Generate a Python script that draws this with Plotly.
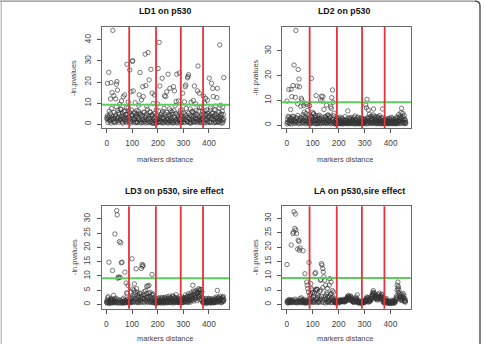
import plotly.graph_objects as go

W, H = 485, 344

# marker positions (shared by all four analyses)
markers = [
    1, 3, 5, 8, 10, 12, 15, 17, 19, 21,
    24, 26, 28, 31, 33, 35, 38, 40, 42, 44,
    47, 49, 51, 54, 56, 58, 61, 63, 65, 67,
    70, 72, 74, 77, 79, 81, 84, 86, 88, 90,
    93, 95, 97, 100, 102, 104, 107, 109, 111, 113,
    116, 118, 120, 123, 125, 127, 130, 132, 134, 136,
    139, 141, 143, 146, 148, 150, 153, 155, 157, 159,
    162, 164, 166, 169, 171, 173, 176, 178, 180, 182,
    185, 187, 189, 192, 194, 196, 199, 201, 203, 205,
    208, 210, 212, 215, 217, 219, 222, 224, 226, 228,
    231, 233, 235, 238, 240, 242, 245, 247, 249, 251,
    254, 256, 258, 261, 263, 265, 268, 270, 272, 274,
    277, 279, 281, 284, 286, 288, 291, 293, 295, 297,
    300, 302, 304, 307, 309, 311, 314, 316, 318, 320,
    323, 325, 327, 330, 332, 334, 337, 339, 341, 343,
    346, 348, 350, 353, 355, 357, 360, 362, 364, 366,
    369, 371, 373, 376, 378, 380, 383, 385, 387, 389,
    392, 394, 396, 399, 401, 403, 406, 408, 410, 412,
    415, 417, 419, 422, 424, 426, 429, 431, 433, 435,
    438, 440, 442, 445, 447, 449, 452, 454, 456, 458,
]

ld1_a = [
    3.2, 19.4, 2.1, 24.6, 4.0, 1.5, 12.0, 19.7, 2.8, 15.0,
    44.5, 2.5, 13.5, 1.2, 3.8, 12.0, 19.0, 20.2, 16.2, 3.0,
    5.5, 1.8, 9.5, 2.6, 7.0, 11.0, 1.0, 3.5, 13.0, 6.2,
    13.9, 2.0, 4.5, 8.0, 28.4, 1.5, 10.5, 3.3, 6.0, 25.7,
    1.2, 15.4, 4.2, 29.8, 30.1, 15.8, 2.2, 5.0, 10.2, 0.8,
    3.5, 6.5, 1.0, 2.7, 9.0, 13.9, 24.5, 4.8, 0.6, 11.5,
    2.0, 17.8, 13.1, 5.5, 1.4, 33.2, 18.3, 3.9, 8.5, 0.9,
    34.0, 2.8, 21.0, 6.0, 1.1, 26.0, 4.4, 14.7, 0.5, 9.8,
    3.0, 13.9, 1.7, 0.4, 6.8, 2.3, 9.6, 26.4, 1.2, 38.8,
    18.1, 3.6, 1.0, 5.2, 21.8, 0.7, 2.9, 7.5, 13.5, 1.5,
    13.1, 2.4, 15.4, 0.9, 23.7, 4.6, 1.3, 17.0, 3.1, 6.4,
    1.8, 5.7, 0.6, 17.8, 3.4, 15.8, 8.8, 2.1, 10.8, 23.7,
    1.0, 4.0, 11.0, 24.3, 2.5, 6.6, 0.8, 3.7, 1.9, 14.7,
    5.4, 2.2, 10.6, 17.8, 18.6, 4.1, 1.3, 22.0, 22.6, 23.5,
    3.2, 0.7, 7.2, 10.4, 2.0, 5.9, 1.1, 11.2, 3.8, 18.1,
    2.6, 9.6, 4.7, 1.4, 15.8, 27.6, 6.3, 14.7, 0.9, 3.5,
    1.7, 8.0, 2.9, 0.6, 13.4, 5.0, 9.9, 2.3, 12.3, 4.2,
    6.8, 11.4, 1.5, 3.9, 21.8, 0.8, 7.7, 2.6, 19.4, 5.3,
    17.0, 13.1, 2.0, 4.5, 0.9, 8.6, 3.3, 12.6, 17.0, 6.1,
    1.2, 3.0, 37.6, 9.0, 0.5, 4.8, 2.2, 8.2, 1.6, 22.1,
]
ld1_b = [
    2.5, 4.1, 0.8, 3.3, 6.2, 1.9, 5.0, 0.6, 7.4, 2.2,
    3.6, 1.1, 5.6, 2.9, 0.7, 4.4, 8.3, 1.6, 3.0, 6.5,
    0.9, 4.8, 2.3, 7.0, 1.4, 3.7, 5.3, 0.5, 2.7, 4.0,
    6.0, 1.3, 3.1, 0.8, 4.6, 2.0, 7.8, 3.5, 1.0, 5.4,
    2.8, 0.6, 6.7, 1.7, 4.3, 3.0, 0.9, 5.7, 2.4, 3.9,
    1.2, 4.9, 0.7, 3.4, 6.1, 2.1, 5.0, 1.5, 3.8, 0.9,
    4.2, 2.5, 0.8, 5.8, 1.9, 3.2, 0.6, 4.7, 2.3, 7.1,
    1.6, 3.9, 0.7, 2.8, 5.5, 1.2, 3.6, 0.5, 4.4, 2.1,
    0.6, 3.1, 5.2, 1.8, 0.4, 4.0, 2.6, 0.9, 6.3, 3.3,
    2.2, 0.8, 4.5, 1.4, 3.2, 6.0, 0.6, 2.7, 4.9, 1.3,
    3.7, 1.0, 5.6, 2.2, 0.5, 3.9, 7.3, 1.7, 4.2, 0.8,
    2.9, 4.7, 1.5, 0.7, 6.4, 3.1, 1.2, 5.1, 2.4, 0.6,
    4.6, 1.8, 3.0, 0.6, 5.3, 2.0, 4.1, 0.9, 6.8, 2.7,
    1.1, 3.5, 0.7, 4.8, 2.2, 7.5, 1.6, 3.3, 0.8, 5.2,
    2.4, 4.3, 1.0, 0.5, 3.7, 6.1, 2.8, 1.4, 5.5, 0.9,
    3.9, 1.3, 6.6, 2.5, 0.7, 4.0, 1.8, 3.1, 7.9, 2.0,
    0.8, 4.4, 2.7, 5.8, 1.5, 3.2, 0.6, 6.3, 2.2, 4.7,
    1.9, 0.7, 5.0, 3.3, 1.2, 4.1, 6.6, 0.9, 2.8, 3.7,
    5.2, 2.4, 0.6, 3.8, 6.9, 1.3, 4.5, 0.8, 2.0, 3.4,
    0.9, 5.6, 2.3, 4.0, 1.5, 3.1, 6.2, 0.7, 4.6, 2.5,
]

ld2_a = [
    9.7, 1.2, 3.5, 14.4, 2.0, 0.8, 6.3, 14.5, 11.5, 2.6,
    16.0, 2.1, 24.3, 1.3, 11.2, 38.3, 3.0, 15.8, 8.6, 22.5,
    18.6, 15.5, 2.4, 7.6, 10.8, 10.1, 1.7, 3.3, 7.9, 5.2,
    8.8, 2.0, 4.6, 8.4, 1.4, 6.0, 3.8, 2.7, 7.9, 1.2,
    0.9, 18.9, 3.3, 5.1, 1.6, 4.5, 2.2, 0.7, 3.9, 11.9,
    1.8, 0.6, 2.9, 1.2, 4.0, 2.4, 10.1, 0.8, 11.7, 9.7,
    11.5, 2.0, 6.3, 1.0, 3.2, 2.5, 8.1, 0.7, 1.9, 4.1,
    1.5, 3.6, 0.9, 7.4, 6.8, 11.1, 14.2, 9.2, 2.3, 4.8,
    1.1, 0.4, 2.5, 0.8, 3.0, 0.5, 1.7, 0.9, 2.2, 0.6,
    1.3, 0.7, 2.8, 1.0, 0.5, 1.9, 0.8, 3.4, 1.2, 0.6,
    2.0, 0.9, 5.7, 1.5, 0.6, 2.6, 1.1, 3.1, 0.7, 1.8,
    0.8, 2.3, 1.4, 0.5, 3.7, 1.0, 2.1, 0.7, 1.6, 3.2,
    1.2, 0.6, 2.7, 0.9, 1.8, 0.5, 2.4, 1.3, 0.7, 1.5,
    1.0, 2.2, 8.1, 7.0, 10.4, 3.0, 6.1, 1.5, 4.4, 2.6,
    1.2, 3.5, 0.8, 2.4, 4.1, 6.5, 1.7, 3.0, 0.9, 2.2,
    1.6, 3.4, 0.7, 2.5, 1.2, 3.8, 0.6, 2.0, 1.4, 0.8,
    6.5, 1.0, 0.5, 2.3, 1.4, 0.7, 1.9, 0.9, 2.6, 1.1,
    0.6, 1.5, 2.8, 0.8, 1.2, 3.1, 0.5, 1.7, 2.2, 0.9,
    1.3, 0.6, 2.4, 1.0, 3.3, 0.7, 1.8, 4.2, 2.6, 1.5,
    3.6, 5.0, 6.8, 2.4, 4.7, 1.2, 3.9, 0.8, 2.0, 0.6,
]
ld2_b = [
    0.5, 2.3, 1.0, 3.1, 0.7, 1.8, 2.8, 0.4, 1.5, 3.6,
    1.2, 3.4, 0.6, 2.0, 1.6, 0.9, 2.7, 1.3, 3.9, 0.5,
    2.1, 0.8, 1.7, 3.0, 0.6, 2.5, 1.1, 4.2, 0.9, 1.9,
    0.7, 3.2, 1.5, 0.5, 2.6, 1.0, 0.9, 1.8, 0.6, 2.9,
    3.5, 1.1, 0.6, 2.4, 4.6, 1.4, 0.8, 3.0, 1.9, 0.5,
    2.2, 1.0, 3.7, 0.7, 1.5, 2.8, 0.5, 1.9, 3.3, 1.2,
    0.9, 2.6, 1.3, 0.6, 3.4, 1.7, 0.8, 2.1, 3.9, 1.4,
    2.7, 0.8, 1.9, 3.3, 0.5, 1.4, 2.5, 0.7, 3.8, 1.1,
    0.6, 1.8, 0.9, 2.1, 0.5, 1.3, 2.6, 0.7, 1.0, 3.2,
    2.0, 0.5, 1.4, 2.5, 0.9, 0.6, 1.7, 0.8, 2.3, 1.1,
    0.7, 1.6, 0.5, 2.9, 1.2, 0.8, 2.2, 0.6, 1.5, 2.4,
    1.9, 0.6, 3.1, 1.1, 0.7, 2.0, 0.5, 2.8, 0.9, 1.3,
    0.5, 2.1, 0.8, 1.6, 0.6, 3.0, 1.0, 0.7, 2.3, 0.9,
    2.5, 0.7, 1.4, 0.5, 1.9, 0.8, 2.8, 0.6, 1.2, 3.3,
    0.8, 1.9, 2.7, 0.6, 1.3, 0.9, 3.6, 1.1, 2.0, 0.5,
    2.9, 0.6, 1.5, 3.2, 0.8, 1.1, 2.4, 0.5, 3.0, 1.7,
    1.2, 2.8, 0.7, 1.6, 0.5, 2.2, 0.9, 1.4, 0.6, 2.0,
    1.8, 0.5, 1.1, 2.3, 0.7, 0.9, 1.6, 2.6, 0.6, 1.3,
    0.7, 2.0, 1.4, 0.5, 1.7, 2.9, 0.8, 1.2, 0.6, 3.1,
    1.5, 0.7, 2.6, 1.1, 3.3, 0.6, 1.9, 2.4, 0.9, 1.2,
]

ld3_a = [
    0.6, 1.5, 0.8, 2.7, 14.8, 1.2, 0.5, 2.0, 0.9, 1.6,
    11.9, 0.7, 3.2, 1.4, 24.7, 0.9, 2.1, 32.9, 31.4, 9.2,
    9.6, 9.4, 22.0, 9.5, 21.6, 14.6, 14.8, 1.0, 0.6, 2.2,
    0.8, 11.3, 1.5, 7.5, 4.1, 3.7, 6.7, 0.6, 1.9, 0.9,
    1.3, 2.4, 0.7, 16.0, 3.0, 1.1, 5.0, 7.2, 4.3, 2.0,
    12.5, 5.5, 1.6, 3.4, 0.8, 2.7, 4.0, 1.2, 2.3, 12.6,
    14.0, 13.3, 13.7, 2.1, 4.5, 3.0, 1.4, 3.8, 6.4, 2.5,
    6.4, 1.7, 6.7, 2.9, 4.2, 1.0, 3.5, 10.5, 3.2, 3.7,
    2.0, 0.8, 1.5, 0.4, 1.1, 0.7, 1.9, 0.5, 1.3, 2.3,
    0.9, 1.6, 0.5, 2.1, 1.2, 0.7, 1.8, 0.6, 2.4, 1.0,
    1.4, 0.6, 2.6, 1.0, 0.8, 1.7, 2.9, 0.7, 1.3, 2.2,
    0.6, 1.8, 3.0, 1.1, 0.5, 2.4, 1.5, 0.9, 3.4, 1.2,
    2.1, 0.7, 1.4, 0.9, 2.7, 1.1, 0.6, 1.9, 1.3, 2.5,
    0.8, 1.6, 2.2, 1.0, 3.3, 1.5, 2.6, 0.9, 1.9, 3.7,
    2.4, 1.3, 3.2, 4.0, 1.8, 2.9, 6.7, 3.6, 2.1, 4.4,
    3.0, 4.6, 2.3, 5.0, 3.7, 4.3, 5.5, 2.8, 4.9, 3.4,
    5.2, 4.0, 2.5, 0.6, 1.4, 0.8, 1.9, 0.5, 1.2, 2.1,
    0.9, 0.5, 1.6, 1.1, 0.7, 2.0, 0.6, 1.3, 0.8, 1.7,
    1.0, 0.6, 1.5, 2.2, 0.9, 1.4, 2.6, 1.1, 4.9, 1.8,
    2.4, 1.2, 2.9, 1.6, 0.8, 2.0, 1.4, 2.5, 1.1, 1.8,
]
ld3_b = [
    1.0, 0.5, 2.3, 0.7, 1.2, 0.4, 1.8, 0.6, 1.4, 0.8,
    0.5, 1.6, 0.9, 2.0, 0.6, 1.3, 0.7, 1.1, 0.5, 1.7,
    0.8, 0.5, 1.5, 0.6, 1.2, 0.9, 0.4, 1.8, 0.7, 1.1,
    0.5, 1.3, 0.7, 0.9, 0.6, 1.6, 0.8, 1.0, 0.5, 1.2,
    0.6, 4.4, 2.0, 1.0, 5.4, 0.7, 2.6, 1.5, 3.4, 0.8,
    1.9, 0.9, 4.3, 0.6, 2.5, 1.3, 3.7, 0.7, 1.6, 2.9,
    0.8, 2.2, 1.1, 3.4, 0.6, 1.8, 4.8, 1.0, 2.7, 0.9,
    2.4, 0.7, 3.9, 1.2, 0.8, 2.6, 1.5, 0.6, 1.9, 0.9,
    0.6, 1.4, 0.9, 1.8, 0.5, 1.2, 0.8, 2.1, 0.7, 1.0,
    1.5, 0.6, 1.1, 0.8, 2.5, 0.9, 1.3, 0.5, 1.6, 2.2,
    0.8, 2.0, 1.2, 0.6, 1.9, 0.9, 1.5, 2.3, 0.7, 1.0,
    2.2, 0.9, 1.4, 2.7, 1.0, 0.7, 1.9, 2.5, 0.8, 1.6,
    0.9, 1.5, 0.6, 2.0, 1.2, 0.8, 1.7, 0.6, 2.2, 0.7,
    1.9, 0.7, 1.2, 2.4, 0.9, 2.0, 1.3, 2.8, 0.7, 1.5,
    1.1, 2.7, 0.8, 1.9, 3.0, 1.4, 2.3, 4.7, 1.2, 3.1,
    1.8, 2.5, 3.8, 1.3, 4.1, 2.2, 3.0, 4.0, 1.7, 5.3,
    3.3, 1.6, 4.5, 1.0, 0.7, 1.5, 0.6, 1.1, 0.8, 0.5,
    1.4, 1.0, 0.6, 2.1, 1.5, 0.8, 1.2, 0.5, 1.9, 1.0,
    0.7, 1.3, 0.9, 0.6, 1.7, 0.8, 1.1, 1.9, 0.7, 2.3,
    1.5, 0.9, 1.2, 2.1, 1.7, 0.6, 2.3, 1.0, 2.8, 1.4,
]

la_a = [
    13.9, 0.6, 1.0, 0.8, 1.5, 1.2, 0.9, 20.7, 1.6, 0.7,
    24.7, 25.3, 32.3, 26.5, 31.5, 25.9, 24.7, 0.8, 19.3, 22.4,
    22.0, 18.9, 19.7, 1.1, 2.3, 0.7, 1.4, 18.7, 0.9, 1.8,
    10.7, 1.0, 0.6, 7.8, 6.7, 5.5, 4.3, 14.6, 3.2, 2.0,
    7.2, 5.5, 5.0, 1.4, 2.6, 0.8, 3.9, 10.7, 11.1, 5.3,
    5.3, 5.2, 1.8, 0.9, 2.7, 1.5, 8.4, 8.7, 14.2, 13.7,
    12.5, 11.3, 9.6, 8.4, 3.0, 6.7, 1.9, 4.0, 2.6, 0.8,
    1.5, 6.7, 9.0, 3.4, 7.8, 2.3, 4.8, 1.2, 4.3, 2.0,
    1.4, 0.9, 0.5, 0.7, 1.0, 1.3, 1.1, 0.8, 1.2, 1.5,
    1.6, 1.3, 1.0, 1.2, 1.5, 1.8, 1.4, 1.1, 1.3, 1.7,
    2.0, 2.4, 2.8, 3.1, 2.6, 2.2, 1.8, 2.9, 2.5, 1.9,
    1.5, 1.2, 0.9, 1.3, 1.7, 2.1, 2.5, 1.9, 3.3, 1.4,
    1.0, 0.7, 1.2, 0.6, 0.9, 0.5, 0.8, 1.1, 0.6, 1.0,
    0.9, 1.3, 1.7, 2.0, 2.6, 1.8, 2.3, 1.5, 1.2, 1.9,
    1.6, 2.1, 2.9, 3.5, 4.2, 4.8, 4.1, 3.7, 3.2, 2.8,
    2.5, 3.0, 2.2, 3.4, 2.7, 3.9, 2.4, 3.1, 2.9, 3.6,
    3.3, 2.6, 1.2, 0.8, 1.5, 1.0, 2.1, 1.7, 1.3, 0.9,
    0.7, 1.1, 0.9, 0.5, 0.8, 1.4, 1.0, 0.6, 1.2, 0.9,
    1.3, 0.8, 1.7, 2.4, 3.0, 6.7, 7.8, 6.2, 5.1, 3.6,
    2.8, 2.2, 3.5, 1.9, 2.6, 3.8, 3.2, 1.5, 2.0, 1.2,
]
la_b = [
    0.8, 1.3, 0.5, 1.7, 0.9, 0.6, 1.4, 1.1, 0.7, 1.2,
    1.0, 0.6, 1.5, 0.9, 1.8, 0.7, 1.2, 0.5, 1.1, 0.8,
    1.3, 0.7, 2.0, 0.9, 0.6, 1.6, 1.0, 0.8, 1.4, 0.5,
    0.7, 1.2, 0.5, 0.9, 1.5, 0.6, 1.1, 0.8, 1.7, 0.6,
    3.6, 1.0, 2.2, 4.1, 0.7, 3.0, 1.3, 0.9, 4.8, 1.7,
    0.6, 2.4, 3.3, 1.1, 0.7, 4.5, 1.9, 5.0, 2.8, 0.8,
    5.8, 1.4, 0.7, 2.2, 1.6, 0.5, 3.5, 0.9, 5.6, 1.2,
    0.8, 2.9, 1.3, 0.6, 3.8, 1.8, 0.7, 2.6, 1.5, 0.9,
    0.6, 1.2, 0.8, 1.0, 0.7, 0.9, 1.4, 0.5, 0.8, 1.1,
    1.2, 0.9, 1.4, 1.0, 1.1, 1.3, 0.8, 1.5, 1.0, 1.2,
    1.6, 1.9, 2.3, 1.5, 2.0, 2.7, 1.4, 2.2, 1.7, 1.3,
    1.0, 0.8, 1.1, 0.7, 1.4, 1.0, 1.7, 1.2, 0.9, 0.6,
    0.5, 0.9, 0.6, 0.8, 0.4, 0.7, 0.5, 0.6, 0.9, 0.7,
    0.6, 0.9, 1.1, 1.4, 1.0, 2.2, 1.6, 0.8, 1.3, 1.0,
    1.2, 1.5, 2.0, 2.6, 3.2, 3.8, 3.0, 2.5, 2.2, 1.9,
    1.8, 2.1, 1.5, 2.4, 2.0, 2.7, 1.7, 2.2, 2.5, 2.0,
    2.4, 1.8, 0.7, 0.5, 0.9, 0.6, 1.3, 1.0, 0.7, 0.5,
    0.4, 0.6, 0.5, 0.3, 0.5, 0.8, 0.6, 0.4, 0.7, 0.5,
    0.8, 0.5, 1.0, 1.5, 2.1, 4.9, 5.6, 4.2, 3.1, 2.4,
    1.8, 1.5, 2.5, 1.3, 1.9, 2.7, 2.2, 1.0, 1.4, 0.8,
]

titles = ["LD1 on p530", "LD2 on p530", "LD3 on p530, sire effect", "LA on p530,sire effect"]
x_label = "markers distance"
y_label = "-ln.pvalues"
boundaries = [88, 193, 290, 377]      # red vertical lines
threshold = 9.2                        # green horizontal line
x_ticks = [0, 100, 200, 300, 400]
y_ticks = [[0, 10, 20, 30, 40], [0, 10, 20, 30],
           [0, 5, 10, 15, 20, 25, 30], [0, 5, 10, 15, 20, 25, 30]]
series = [(ld1_a, ld1_b), (ld2_a, ld2_b), (ld3_a, ld3_b), (la_a, la_b)]

# layout (pixel boxes of the four panels)
boxes = [(102, 229, 27, 128), (282, 411, 27, 128),
         (101.7, 229, 206.3, 308.7), (282, 410.7, 206.3, 308.7)]
y_ranges = [[-1.8, 46.1], [-1.2, 39.7], [-1.5, 34.4], [-1.5, 34.2]]
x_range = [-18.4, 478.4]
title_pos = [(165.3, 11), (344.3, 11), (174.7, 190.5), (359, 190.5)]
xlab_pos = [(165, 159.5), (345.2, 159.5), (165, 338.5), (345.2, 338.5)]
ylab_pos = [(74, 78), (255, 77.5), (74, 257), (255, 257)]

FONT = "Liberation Sans, Arial, Helvetica, sans-serif"
RED = "#e6333a"
GREEN = "#5ccc5c"
PT = "#333333"


def px(x):
    return x / W


def py(y):
    return 1 - y / H


fig = go.Figure()
shapes = []
annotations = []
for i in range(4):
    n = "" if i == 0 else str(i + 1)
    ya, yb = series[i]
    for ys in (yb, ya):
        fig.add_trace(go.Scatter(
            x=markers, y=ys, mode="markers", xaxis="x" + n, yaxis="y" + n,
            marker=dict(symbol="circle-open", size=4.4, color=PT,
                        line=dict(width=0.65, color=PT)),
            hoverinfo="x+y", showlegend=False))
    x0, x1, y0, y1 = boxes[i]
    axis_common = dict(showgrid=False, zeroline=False, showline=True, mirror=True,
                       linecolor="#6a6a6a", linewidth=1, ticks="outside", ticklen=4,
                       tickwidth=1, tickcolor="#555",
                       tickfont=dict(family=FONT, size=8.3, color="#444"))
    fig.layout["xaxis" + n] = dict(
        domain=[px(x0), px(x1)], range=x_range, tickvals=x_ticks,
        anchor="y" + n, ticklabelstandoff=3, **axis_common)
    fig.layout["yaxis" + n] = dict(
        domain=[py(y1), py(y0)], range=y_ranges[i], tickvals=y_ticks[i],
        tickangle=-90, anchor="x" + n, ticklabelstandoff=3, **axis_common)
    # threshold line
    shapes.append(dict(type="line", xref="x" + n + " domain", yref="y" + n,
                       x0=0, x1=1, y0=threshold, y1=threshold,
                       line=dict(color=GREEN, width=2)))
    for b in boundaries:
        shapes.append(dict(type="line", xref="x" + n, yref="y" + n + " domain",
                           x0=b, x1=b, y0=0, y1=1,
                           line=dict(color=RED, width=1.8)))
    tx, ty = title_pos[i]
    annotations.append(dict(text="<b>" + titles[i] + "</b>", x=px(tx), y=py(ty),
                            xref="paper", yref="paper", showarrow=False,
                            xanchor="center", yanchor="middle",
                            font=dict(family=FONT, size=8.8, color="#111")))
    lx, ly = xlab_pos[i]
    annotations.append(dict(text=x_label, x=px(lx), y=py(ly), xref="paper",
                            yref="paper", showarrow=False, xanchor="center",
                            yanchor="middle",
                            font=dict(family=FONT, size=7.4, color="#444")))
    vx, vy = ylab_pos[i]
    annotations.append(dict(text=y_label, x=px(vx), y=py(vy), xref="paper",
                            yref="paper", showarrow=False, xanchor="center",
                            yanchor="middle", textangle=-90,
                            font=dict(family=FONT, size=7.4, color="#444")))

# outer frame of the figure image
shapes.append(dict(type="line", xref="paper", yref="paper", x0=px(1.2), x1=px(1.2),
                   y0=py(1.5), y1=py(H), line=dict(color="#b8b8b8", width=1.2)))
shapes.append(dict(type="line", xref="paper", yref="paper", x0=0, x1=px(475),
                   y0=py(1.2), y1=py(1.2), line=dict(color="#8a8a8a", width=1.2)))
shapes.append(dict(type="path", xref="paper", yref="paper",
                   path=f"M {px(475)},{py(1.2)} Q {px(480)},{py(1.2)} {px(480)},{py(6)} L {px(480)},{py(H)}",
                   line=dict(color="#3c3c3c", width=1.3)))

fig.update_layout(width=W, height=H, margin=dict(l=0, r=0, t=0, b=0),
                  paper_bgcolor="white", plot_bgcolor="white",
                  shapes=shapes, annotations=annotations, showlegend=False)

fig.write_html("out.html")
